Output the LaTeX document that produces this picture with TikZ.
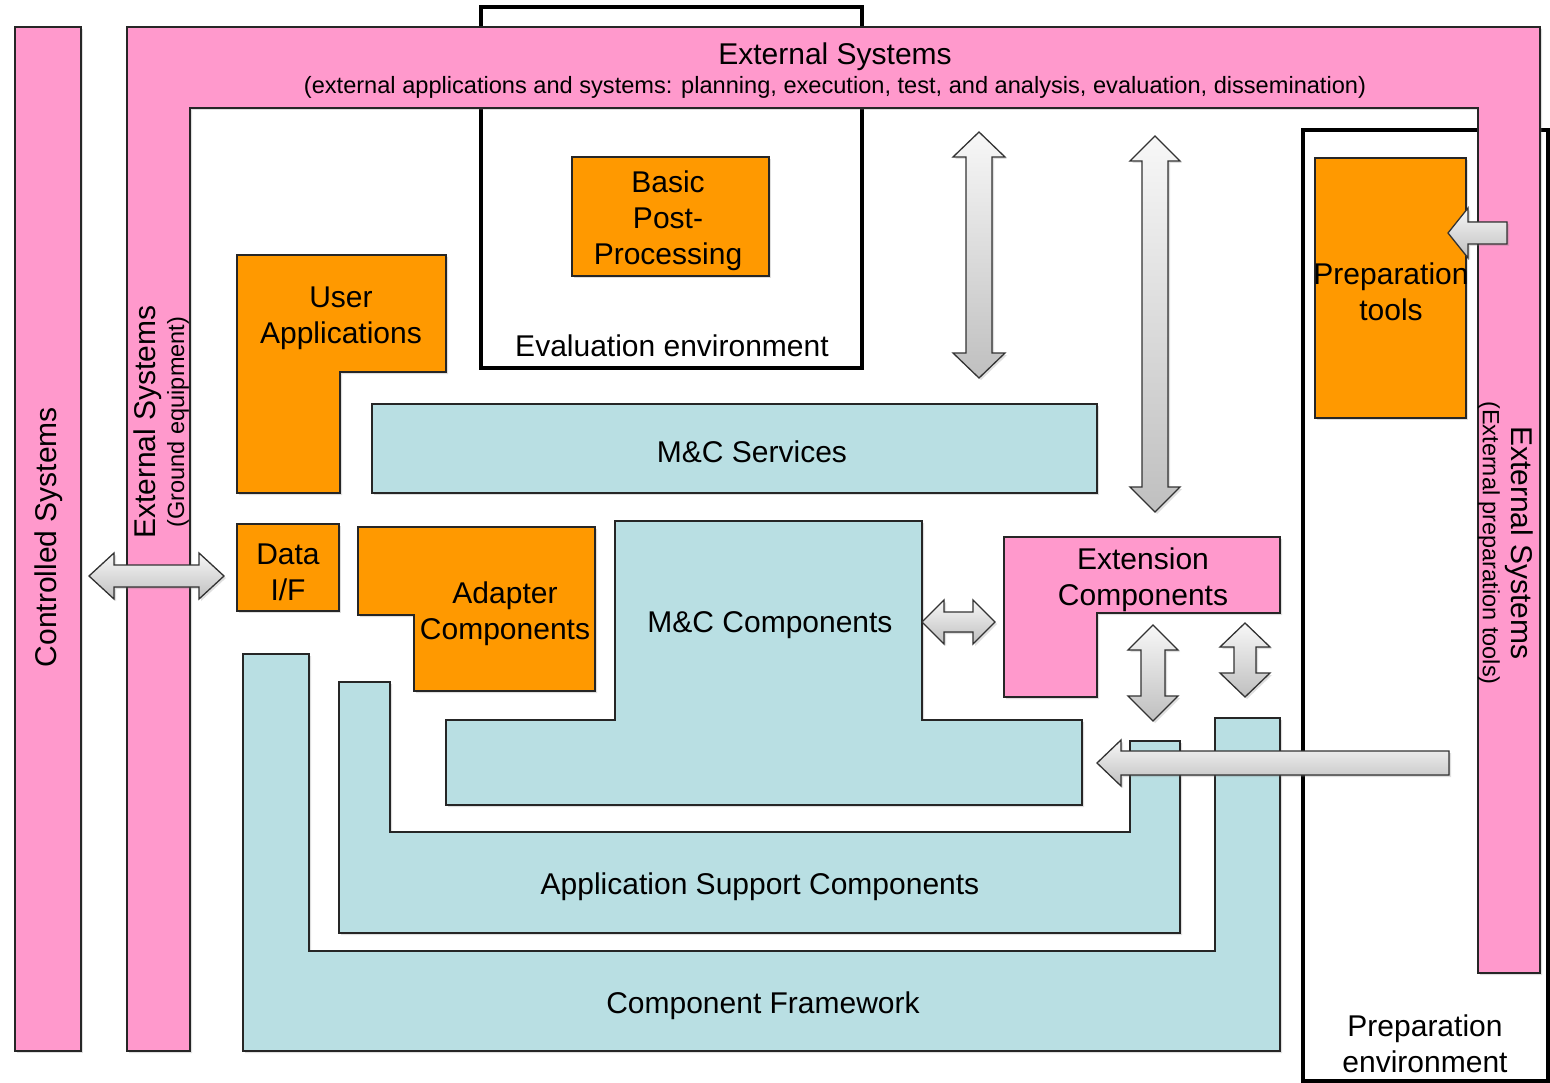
\documentclass[tikz,border=0pt]{standalone}
\usepackage{fontspec}
\setmainfont{Liberation Sans}
\usetikzlibrary{shadows}
\definecolor{pinkc}{HTML}{FF99CC}
\definecolor{orangec}{HTML}{FF9900}
\definecolor{bluec}{HTML}{B9DFE3}
\tikzset{
 shp/.style={draw=black!85, line width=1.5pt, line join=miter, drop shadow={shadow xshift=2pt,shadow yshift=-2pt,opacity=0.25}},
 pinkbox/.style={shp, fill=pinkc},
 orangebox/.style={shp, fill=orangec},
 bluebox/.style={shp, fill=bluec},
 envbox/.style={draw=black, line width=3.5pt, fill=white},
 blk/.style={draw=black!80, line width=1.3pt, line join=miter, top color=gray!6, bottom color=gray!50, drop shadow={shadow xshift=2pt,shadow yshift=-2pt,opacity=0.25}},
 lbl/.style={font=\fontsize{30}{36}\selectfont, align=center, inner sep=0pt},
 sublbl/.style={font=\fontsize{23.5}{27}\selectfont, inner sep=0pt},
 subtop/.style={font=\fontsize{23.6}{27}\selectfont, inner sep=0pt},
}
\newcommand{\arrV}[6]{\filldraw[blk] (#1,#2) -- (#1+#5,#2+#6) -- (#1+#4,#2+#6) -- (#1+#4,#3-#6) -- (#1+#5,#3-#6) -- (#1,#3) -- (#1-#5,#3-#6) -- (#1-#4,#3-#6) -- (#1-#4,#2+#6) -- (#1-#5,#2+#6) -- cycle;}
\newcommand{\arrH}[6]{\filldraw[blk] (#2,#1) -- (#2+#6,#1-#5) -- (#2+#6,#1-#4) -- (#3-#6,#1-#4) -- (#3-#6,#1-#5) -- (#3,#1) -- (#3-#6,#1+#5) -- (#3-#6,#1+#4) -- (#2+#6,#1+#4) -- (#2+#6,#1+#5) -- cycle;}
\newcommand{\arrL}[6]{\filldraw[blk] (#2,#1) -- (#2+#6,#1-#5) -- (#2+#6,#1-#4) -- (#3,#1-#4) -- (#3,#1+#4) -- (#2+#6,#1+#4) -- (#2+#6,#1+#5) -- cycle;}
\begin{document}
\begin{tikzpicture}[x=1pt,y=-1pt]
\useasboundingbox (0,0) rectangle (1550,1083);
% environments
\draw[envbox] (481,7) rectangle (862,368);
\draw[envbox] (1303,130) rectangle (1548,1081);
% pink bars
\filldraw[pinkbox] (15,27) rectangle (81,1051);
\filldraw[pinkbox] (127,27) -- (1540,27) -- (1540,973) -- (1478,973) -- (1478,108) -- (190,108) -- (190,1051) -- (127,1051) -- cycle;
% blue shapes
\filldraw[bluebox] (243,654) -- (309,654) -- (309,951) -- (1215,951) -- (1215,718) -- (1280,718) -- (1280,1051) -- (243,1051) -- cycle;
\filldraw[bluebox] (339,682) -- (390,682) -- (390,832) -- (1130,832) -- (1130,741) -- (1180,741) -- (1180,933) -- (339,933) -- cycle;
\filldraw[bluebox] (615,521) -- (922,521) -- (922,720) -- (1082,720) -- (1082,805) -- (446,805) -- (446,720) -- (615,720) -- cycle;
\filldraw[bluebox] (372,404) rectangle (1097,493);
% orange shapes
\filldraw[orangebox] (572,157) rectangle (769,276);
\filldraw[orangebox] (237,255) -- (446,255) -- (446,372) -- (340,372) -- (340,493) -- (237,493) -- cycle;
\filldraw[orangebox] (237,524) rectangle (339,611);
\filldraw[orangebox] (358,527) -- (595,527) -- (595,691) -- (414,691) -- (414,615) -- (358,615) -- cycle;
\filldraw[orangebox] (1315,158) rectangle (1466,418);
% extension components
\filldraw[pinkbox] (1004,537) -- (1280,537) -- (1280,613) -- (1097,613) -- (1097,697) -- (1004,697) -- cycle;
% labels
\node[lbl] (extT) at (835,57) {External Systems};
\node[subtop] (extTs) at (835,87) {(external applications and systems: planning, execution, test, and analysis, evaluation, dissemination)};
\node[lbl, rotate=90] (ctrl) at (49,537) {Controlled Systems};
\node[lbl, rotate=90] (extL) at (148,422) {External Systems};
\node[sublbl, rotate=90] (extLs) at (178,422) {(Ground equipment)};
\node[lbl, rotate=-90] (extR) at (1519,543) {External Systems};
\node[sublbl, rotate=-90] (extRs) at (1489,543) {(External preparation tools)};
\node[lbl] (evalenv) at (672,346) {Evaluation environment};
\node[lbl] (bpp) at (668,221) {Basic\\Post-\\Processing};
\node[lbl] (ua) at (341,318) {User\\Applications};
\node[lbl] (mcs) at (752,452) {M\&C Services};
\node[lbl] (dif) at (288,572) {Data\\I/F};
\node[lbl] (adc) at (505,614) {Adapter\\Components};
\node[lbl] (mcc) at (770,625) {M\&C Components};
\node[lbl] (extc) at (1143,580) {Extension\\Components};
\node[lbl] (asc) at (760,887) {Application Support Components};
\node[lbl] (cf) at (763,1006) {Component Framework};
\node[lbl] (pt) at (1391,292) {Preparation\\tools};
\node[lbl] (penv) at (1425,1044) {Preparation\\environment};
% block arrows
\arrV{979}{132}{378}{13}{26}{25}
\arrV{1155}{136}{512}{13}{25}{25}
\arrV{1153}{625}{721}{12}{25}{25}
\arrV{1245}{623}{697}{11}{25}{24}
\arrH{576}{89}{224}{11}{23}{25}
\arrH{622}{922}{995}{10}{22}{22}
\arrL{763}{1097}{1449}{12}{23}{24}
\arrL{233}{1448}{1507}{11}{25}{20}
\end{tikzpicture}
\end{document}
